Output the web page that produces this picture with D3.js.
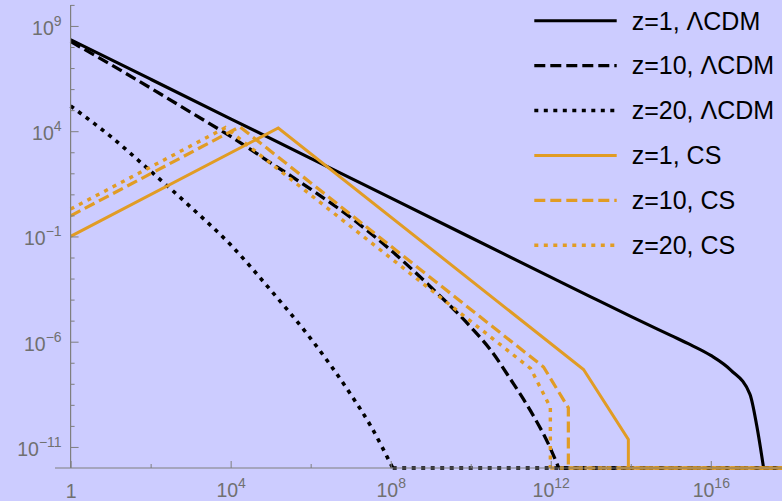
<!DOCTYPE html>
<html>
<head>
<meta charset="utf-8">
<script src="https://cdn.jsdelivr.net/npm/d3@7"></script>
<style>
  html, body { margin: 0; padding: 0; background: #ccccff; }
  svg { display: block; }
  text { font-family: "Liberation Sans", Arial, Helvetica, sans-serif; }
</style>
</head>
<body>
<svg id="chart" width="782" height="501"></svg>
<script>
// Series are stored as decimal exponents: x = 10^lx, y = 10^ly
const lcdm1X = [0, 2, 4, 6, 8, 10, 12, 13, 14, 15, 15.5, 16, 16.5, 16.98, 17.15, 17.32];
const lcdm1Y = [8.35, 6.47, 4.59, 2.71, 0.83, -1.05, -2.93, -3.87, -4.8, -5.7, -6.15, -6.65, -7.35, -8.5, -10.0, -12];

const lcdm10X = [0, 1, 2, 3, 4, 5, 6, 7, 8, 9, 10, 10.5, 11, 11.5, 12, 12.2];
const lcdm10Y = [8.26, 7.17, 6.05, 4.9, 3.75, 2.5, 1.25, -0.1, -1.65, -3.4, -5.3, -6.4, -7.8, -9.3, -11.1, -12];

const lcdm20X = [0, 1, 2, 3, 4, 5, 6, 7, 7.5, 8.05];
const lcdm20Y = [5.2, 3.75, 2.1, 0.4, -1.4, -3.55, -5.85, -8.5, -10.0, -12];

const cs1X = [0, 5.19, 12.82, 13.94, 13.94];
const cs1Y = [-1, 4.15, -7.32, -10.64, -12];

const cs10X = [0, 4.23, 11.82, 12.44, 12.44];
const cs10Y = [-0.02, 4.21, -7.2, -9.14, -12];

const cs20X = [0, 3.87, 11.5, 11.99, 11.99];
const cs20Y = [0.3, 4.17, -7.28, -9.12, -12];

const legendLabels = ["z=1, ΛCDM", "z=10, ΛCDM", "z=20, ΛCDM", "z=1, CS", "z=10, CS", "z=20, CS"];

const xMajorExp = [0, 4, 8, 12, 16];
const xMinorExp = [2, 6, 10, 14];
const yMajorExp = [9, 4, -1, -6, -11];

const BLACK = "#000000";
const ORANGE = "#e19c24";
const DASH = "11,5";
const DOT = "4,5.5";

const series = [
  { xs: lcdm1X,  ys: lcdm1Y,  color: BLACK,  width: 3.1, dash: null, smooth: true },
  { xs: lcdm10X, ys: lcdm10Y, color: BLACK,  width: 3.3, dash: DASH, smooth: true },
  { xs: lcdm20X, ys: lcdm20Y, color: BLACK,  width: 3.6, dash: DOT,  smooth: true },
  { xs: cs1X,    ys: cs1Y,    color: ORANGE, width: 3,   dash: null, smooth: false },
  { xs: cs10X,   ys: cs10Y,   color: ORANGE, width: 3.2, dash: DASH, smooth: false },
  { xs: cs20X,   ys: cs20Y,   color: ORANGE, width: 3.4, dash: DOT,  smooth: false }
];

const svg = d3.select("#chart");
const xMinExp = -0.39, xMaxExp = 17.78;
const yMinExp = -12, yMaxExp = 10;

const x = d3.scaleLog().domain([10 ** xMinExp, 10 ** xMaxExp]).range([55, 782]);
const y = d3.scaleLog().domain([10 ** yMinExp, 10 ** yMaxExp]).range([468, 4.9]);

const AXIS = "#7f7f7f";
const LABEL = "#707070";

// curves
const gCurves = svg.append("g");
series.forEach(s => {
  const pts = s.xs.map((v, i) => [10 ** v, 10 ** s.ys[i]]);
  const line = d3.line()
    .x(d => x(d[0])).y(d => y(d[1]))
    .curve(s.smooth ? d3.curveMonotoneX : d3.curveLinear);
  // floor segment where the curve sits on the bottom of the range
  const floor = [[10 ** s.xs[s.xs.length - 1], 10 ** yMinExp], [10 ** xMaxExp, 10 ** yMinExp]];
  gCurves.append("path")
    .attr("d", d3.line().x(d => x(d[0])).y(d => y(d[1]))(floor))
    .attr("fill", "none").attr("stroke", s.color).attr("stroke-width", s.width)
    .attr("stroke-dasharray", s.dash);
  gCurves.append("path")
    .attr("d", line(pts))
    .attr("fill", "none")
    .attr("stroke", s.color)
    .attr("stroke-width", s.width)
    .attr("stroke-dasharray", s.dash)
    .attr("stroke-linejoin", "miter")
    .attr("stroke-linecap", "butt");
});

// y axis (ticks pointing inward)
const yMinorExp = d3.range(-11, 11).filter(e => !yMajorExp.includes(e));
const gyMinor = svg.append("g").attr("transform", `translate(${x(1)},0)`)
  .call(d3.axisLeft(y).tickValues(yMinorExp.map(e => 10 ** e)).tickSize(-4).tickFormat(""));
const gy = svg.append("g").attr("transform", `translate(${x(1)},0)`)
  .call(d3.axisLeft(y).tickValues(yMajorExp.map(e => 10 ** e)).tickSize(-8).tickPadding(9).tickFormat(""));

// x axis (ticks pointing up)
const gxMinor = svg.append("g").attr("transform", `translate(0,${y(10 ** yMinExp)})`)
  .call(d3.axisBottom(x).tickValues(xMinorExp.map(e => 10 ** e)).tickSize(-4).tickFormat(""));
const gx = svg.append("g").attr("transform", `translate(0,${y(10 ** yMinExp)})`)
  .call(d3.axisBottom(x).tickValues(xMajorExp.map(e => 10 ** e)).tickSize(-7).tickFormat(""));

[gyMinor, gy, gxMinor, gx].forEach(g => {
  g.selectAll(".domain").remove();
  g.selectAll(".tick line").attr("stroke", AXIS).attr("stroke-width", 1);
});

// axis lines
svg.append("line").attr("x1", 55).attr("x2", 782)
  .attr("y1", y(10 ** yMinExp)).attr("y2", y(10 ** yMinExp))
  .attr("stroke", AXIS).attr("stroke-width", 1.2);
svg.append("line").attr("x1", x(1)).attr("x2", x(1))
  .attr("y1", y(10 ** yMaxExp)).attr("y2", y(10 ** yMinExp))
  .attr("stroke", AXIS).attr("stroke-width", 1.2);

// power-of-ten labels
function powLabel(sel, e) {
  sel.append("tspan").text("10");
  sel.append("tspan").attr("dy", -9).attr("font-size", 14)
    .text(e < 0 ? "\u2212" + (-e) : String(e));
}

gy.selectAll(".tick").each(function(d) {
  const e = Math.round(Math.log10(d));
  const t = d3.select(this).select("text")
    .attr("x", -9).attr("dy", null).attr("y", 8.5)
    .attr("fill", LABEL).attr("font-size", 19.5).attr("text-anchor", "end");
  t.text(null);
  powLabel(t, e);
});

gx.selectAll(".tick").each(function(d) {
  const e = Math.round(Math.log10(d));
  const t = d3.select(this).select("text")
    .attr("dy", null).attr("fill", LABEL).attr("font-size", 19.5).attr("text-anchor", "middle");
  t.text(null);
  if (e === 0) {
    t.attr("y", 30).text("1");
  } else {
    t.attr("y", 29);
    powLabel(t, e);
  }
});

// legend
const gLeg = svg.append("g");
series.forEach((s, i) => {
  const ry = 20.7 + i * 44.9;
  gLeg.append("line").attr("x1", 534.3).attr("x2", 616.7).attr("y1", ry).attr("y2", ry)
    .attr("stroke", s.color).attr("stroke-width", s.width).attr("stroke-dasharray", s.dash);
  gLeg.append("text").attr("x", 631.7).attr("y", ry + 8.8)
    .attr("font-size", 25).attr("fill", "#000").text(legendLabels[i]);
});
</script>
</body>
</html>
